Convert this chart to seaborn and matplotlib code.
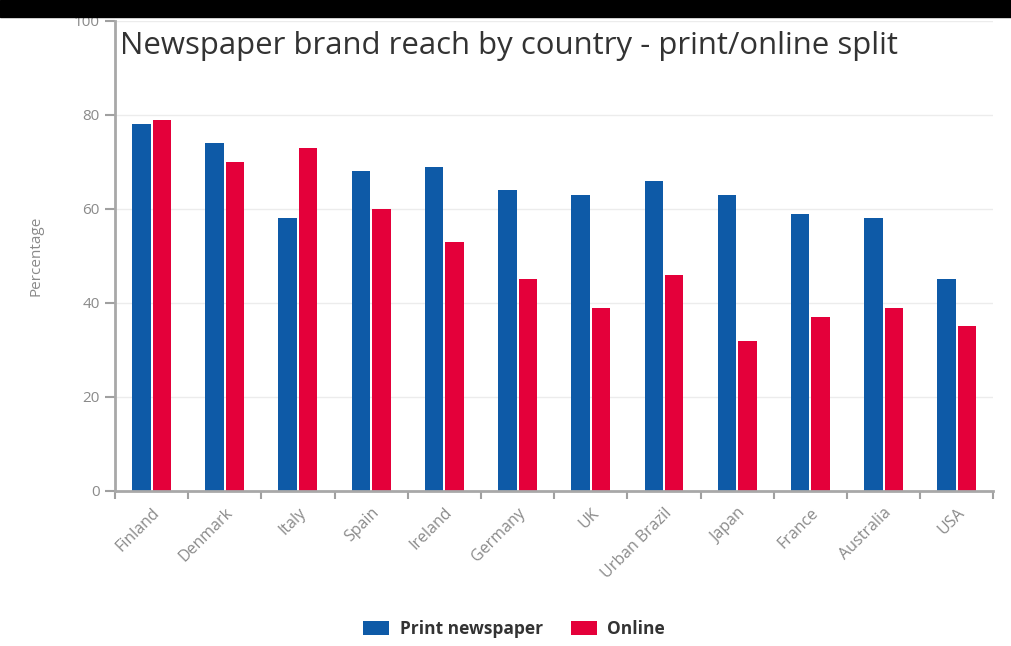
import matplotlib
matplotlib.use("Agg")
import matplotlib.pyplot as plt
import seaborn as sns
import pandas as pd
import numpy as np
from matplotlib.patches import Rectangle, Patch

countries = ["Finland", "Denmark", "Italy", "Spain", "Ireland", "Germany", "UK",
             "Urban Brazil", "Japan", "France", "Australia", "USA"]
print_vals = [78, 74, 58, 68, 69, 64, 63, 66, 63, 59, 58, 45]
online_vals = [79, 70, 73, 60, 53, 45, 39, 46, 32, 37, 39, 35]
series = ["Print newspaper", "Online"]
colors = ["#0E5AA7", "#E4003A"]
yticks = [0, 20, 40, 60, 80, 100]

df = pd.DataFrame({
    "Country": countries * 2,
    "Series": [series[0]] * len(countries) + [series[1]] * len(countries),
    "Value": print_vals + online_vals,
})

sns.set_theme(style="white")
plt.rcParams["font.family"] = ["Open Sans", "DejaVu Sans"]

fig = plt.figure(figsize=(10.12, 6.46), dpi=100)
ax = fig.add_axes([0.1136, 0.240, 0.868, 0.7275])

sns.barplot(data=df, x="Country", y="Value", hue="Series", order=countries,
            hue_order=series, palette=colors, width=0.56, gap=0.1,
            saturation=1, ax=ax, legend=False, linewidth=0)

ax.set_ylim(0, 100)
ax.set_xlim(-0.5, len(countries) - 0.5)
ax.set_yticks(yticks)
ax.set_yticklabels([str(t) for t in yticks], color="#8a8a8a", fontsize=11)
ax.yaxis.grid(True, color="#ececec", linewidth=1)
ax.set_axisbelow(True)
ax.set_xlabel("")
ax.set_ylabel("Percentage", color="#8a8a8a", fontsize=11, labelpad=22)

ax.set_xticks(range(len(countries)))
ax.set_xticklabels(countries, rotation=45, ha="right", rotation_mode="anchor",
                   color="#8a8a8a", fontsize=11.5)
ax.tick_params(axis="x", which="major", length=0, pad=10, bottom=True)
ax.set_xticks(np.arange(-0.5, len(countries), 1.0), minor=True)
ax.tick_params(axis="x", which="minor", length=6, color="#a0a0a0", width=1.5,
               direction="out", bottom=True)
ax.tick_params(axis="y", length=7, color="#a0a0a0", width=1.5, direction="out", left=True, pad=4)

for s in ["top", "right"]:
    ax.spines[s].set_visible(False)
for s in ["left", "bottom"]:
    ax.spines[s].set_color("#a8a8a8")
    ax.spines[s].set_linewidth(2)

# top black band
fig.patches.append(Rectangle((0, 1 - 17 / 646), 1, 17 / 646, transform=fig.transFigure,
                             color="black", zorder=10))

fig.text(120 / 1012, 1 - 46 / 646, "Newspaper brand reach by country - print/online split",
         fontsize=22.4, color="#333333", va="center", ha="left")

handles = [Patch(facecolor=c, edgecolor="none") for c in colors]
fig.legend(handles, series, loc="center", bbox_to_anchor=(0.508, 1 - 629 / 646), ncol=2,
           frameon=False, prop={"weight": "bold", "size": 12.5}, labelcolor="#333333",
           handlelength=1.5, handleheight=0.9, columnspacing=1.6, handletextpad=0.6)

fig.savefig("out.png", dpi=100, facecolor="white")
